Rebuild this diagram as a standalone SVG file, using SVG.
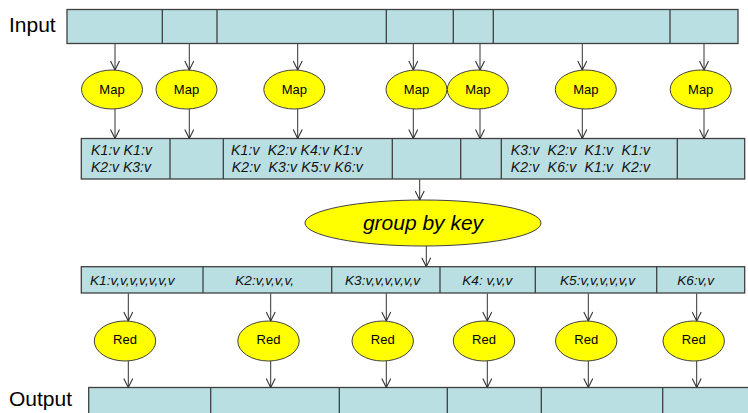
<svg xmlns="http://www.w3.org/2000/svg" width="748" height="413" viewBox="0 0 748 413">
<style>
.bar{fill:#B9DFE3;stroke:#404040;stroke-width:1.3}
.div{stroke:#404040;stroke-width:1.3}
.ell{fill:#FFFF00;stroke:#404040;stroke-width:1}
.lbl{font-family:"Liberation Sans",Arial,sans-serif;font-size:13px;fill:#000}
.kv{font-family:"Liberation Sans",Arial,sans-serif;font-size:13.6px;font-style:italic;fill:#111}
.kvm{font-family:"Liberation Sans",Arial,sans-serif;font-size:14px;font-style:italic;fill:#111}
.big{font-family:"Liberation Sans",Arial,sans-serif;font-size:21px;fill:#000}
.con line{stroke:#333;stroke-width:1;marker-end:url(#ah)}
</style>
<defs>
<marker id="ah" viewBox="0 0 10 10" refX="10" refY="5" markerWidth="10" markerHeight="10" markerUnits="userSpaceOnUse" orient="auto">
<path d="M1,0.5 L10,5 L1,9.5" fill="none" stroke="#333" stroke-width="1.1"/>
</marker>
</defs>
<rect width="748" height="413" fill="#fff"/>

<g id="input">
<text class="big" x="9" y="32">Input</text>
<rect class="bar" x="67" y="9.5" width="671" height="34"/>
<line class="div" x1="162.3" y1="9.5" x2="162.3" y2="43.5"/>
<line class="div" x1="217" y1="9.5" x2="217" y2="43.5"/>
<line class="div" x1="386.3" y1="9.5" x2="386.3" y2="43.5"/>
<line class="div" x1="453.3" y1="9.5" x2="453.3" y2="43.5"/>
<line class="div" x1="493.3" y1="9.5" x2="493.3" y2="43.5"/>
<line class="div" x1="670" y1="9.5" x2="670" y2="43.5"/>
</g>

<g id="map1"><ellipse class="ell" cx="112" cy="89.5" rx="30.5" ry="19.5"/><text class="lbl" x="112" y="94" text-anchor="middle">Map</text></g>
<g id="map2"><ellipse class="ell" cx="186.5" cy="89.5" rx="30.5" ry="19.5"/><text class="lbl" x="186.5" y="94" text-anchor="middle">Map</text></g>
<g id="map3"><ellipse class="ell" cx="294.3" cy="89.5" rx="30.5" ry="19.5"/><text class="lbl" x="294.3" y="94" text-anchor="middle">Map</text></g>
<g id="map4"><ellipse class="ell" cx="416.5" cy="89.5" rx="30.5" ry="19.5"/><text class="lbl" x="416.5" y="94" text-anchor="middle">Map</text></g>
<g id="map5"><ellipse class="ell" cx="477.8" cy="89.5" rx="30.5" ry="19.5"/><text class="lbl" x="477.8" y="94" text-anchor="middle">Map</text></g>
<g id="map6"><ellipse class="ell" cx="585.8" cy="89.5" rx="30.5" ry="19.5"/><text class="lbl" x="585.8" y="94" text-anchor="middle">Map</text></g>
<g id="map7"><ellipse class="ell" cx="700.7" cy="89.5" rx="30.5" ry="19.5"/><text class="lbl" x="700.7" y="94" text-anchor="middle">Map</text></g>

<g id="intermediate">
<rect class="bar" x="81.3" y="138.5" width="663.4" height="40.5"/>
<line class="div" x1="170" y1="138.5" x2="170" y2="179"/>
<line class="div" x1="223.3" y1="138.5" x2="223.3" y2="179"/>
<line class="div" x1="392.3" y1="138.5" x2="392.3" y2="179"/>
<line class="div" x1="460.7" y1="138.5" x2="460.7" y2="179"/>
<line class="div" x1="501.3" y1="138.5" x2="501.3" y2="179"/>
<line class="div" x1="677.3" y1="138.5" x2="677.3" y2="179"/>
<text class="kvm" x="91" y="155" textLength="61" lengthAdjust="spacing" xml:space="preserve">K1:v K1:v</text>
<text class="kvm" x="91" y="172" textLength="60" lengthAdjust="spacing" xml:space="preserve">K2:v K3:v</text>
<text class="kvm" x="231" y="155" textLength="130.7" lengthAdjust="spacing" xml:space="preserve">K1:v  K2:v K4:v K1:v</text>
<text class="kvm" x="231.7" y="172" textLength="131" lengthAdjust="spacing" xml:space="preserve">K2:v  K3:v K5:v K6:v</text>
<text class="kvm" x="510.7" y="155" textLength="139.3" lengthAdjust="spacing" xml:space="preserve">K3:v  K2:v  K1:v  K1:v</text>
<text class="kvm" x="510.7" y="172" textLength="139.3" lengthAdjust="spacing" xml:space="preserve">K2:v  K6:v  K1:v  K2:v</text>
</g>

<g id="groupbykey">
<ellipse class="ell" cx="423" cy="223" rx="118" ry="23"/>
<text class="big" x="423" y="230" text-anchor="middle" font-style="italic">group by key</text>
</g>

<g id="grouped">
<rect class="bar" x="81.3" y="266.7" width="663.4" height="26.3"/>
<line class="div" x1="203" y1="266.7" x2="203" y2="293"/>
<line class="div" x1="331.7" y1="266.7" x2="331.7" y2="293"/>
<line class="div" x1="440" y1="266.7" x2="440" y2="293"/>
<line class="div" x1="535.3" y1="266.7" x2="535.3" y2="293"/>
<line class="div" x1="656.7" y1="266.7" x2="656.7" y2="293"/>
<text class="kv" x="90" y="285">K1:v,v,v,v,v,v,v</text>
<text class="kv" x="235.3" y="285">K2:v,v,v,v,</text>
<text class="kv" x="345" y="285">K3:v,v,v,v,v,v</text>
<text class="kv" x="462.3" y="285" xml:space="preserve">K4: v,v,v</text>
<text class="kv" x="560" y="285">K5:v,v,v,v,v,v</text>
<text class="kv" x="677.3" y="285">K6:v,v</text>
</g>

<g id="red1"><ellipse class="ell" cx="125" cy="341" rx="30.7" ry="20"/><text class="lbl" x="125" y="344" text-anchor="middle">Red</text></g>
<g id="red2"><ellipse class="ell" cx="268.5" cy="341" rx="30.7" ry="20"/><text class="lbl" x="268.5" y="344" text-anchor="middle">Red</text></g>
<g id="red3"><ellipse class="ell" cx="382.7" cy="341" rx="30.7" ry="20"/><text class="lbl" x="382.7" y="344" text-anchor="middle">Red</text></g>
<g id="red4"><ellipse class="ell" cx="484" cy="341" rx="30.7" ry="20"/><text class="lbl" x="484" y="344" text-anchor="middle">Red</text></g>
<g id="red5"><ellipse class="ell" cx="586.2" cy="341" rx="30.7" ry="20"/><text class="lbl" x="586.2" y="344" text-anchor="middle">Red</text></g>
<g id="red6"><ellipse class="ell" cx="693.7" cy="341" rx="30.7" ry="20"/><text class="lbl" x="693.7" y="344" text-anchor="middle">Red</text></g>

<g id="output">
<text class="big" x="9" y="406">Output</text>
<rect class="bar" x="88.7" y="387.5" width="680" height="40"/>
<line class="div" x1="210.7" y1="387.5" x2="210.7" y2="413"/>
<line class="div" x1="339.3" y1="387.5" x2="339.3" y2="413"/>
<line class="div" x1="447.3" y1="387.5" x2="447.3" y2="413"/>
<line class="div" x1="541.3" y1="387.5" x2="541.3" y2="413"/>
<line class="div" x1="662.7" y1="387.5" x2="662.7" y2="413"/>
</g>

<g id="connectors" class="con">
<line x1="115" y1="44" x2="115" y2="70"/>
<line x1="189.3" y1="44" x2="189.3" y2="70"/>
<line x1="297.7" y1="44" x2="297.7" y2="70"/>
<line x1="413.3" y1="44" x2="413.3" y2="70"/>
<line x1="480" y1="44" x2="480" y2="70"/>
<line x1="582.3" y1="44" x2="582.3" y2="70"/>
<line x1="704" y1="44" x2="704" y2="70"/>
<line x1="115" y1="109" x2="115" y2="138.5"/>
<line x1="189.3" y1="109" x2="189.3" y2="138.5"/>
<line x1="297.7" y1="109" x2="297.7" y2="138.5"/>
<line x1="413.3" y1="109" x2="413.3" y2="138.5"/>
<line x1="480" y1="109" x2="480" y2="138.5"/>
<line x1="582.3" y1="109" x2="582.3" y2="138.5"/>
<line x1="704" y1="109" x2="704" y2="138.5"/>
<line x1="419.7" y1="179.5" x2="419.7" y2="200"/>
<line x1="426.3" y1="246" x2="426.3" y2="266.7"/>
<line x1="128.3" y1="293.5" x2="128.3" y2="321"/>
<line x1="270.7" y1="293.5" x2="270.7" y2="321"/>
<line x1="386.3" y1="293.5" x2="386.3" y2="321"/>
<line x1="487.3" y1="293.5" x2="487.3" y2="321"/>
<line x1="588.3" y1="293.5" x2="588.3" y2="321"/>
<line x1="696.7" y1="293.5" x2="696.7" y2="321"/>
<line x1="128.3" y1="361" x2="128.3" y2="387.5"/>
<line x1="270.7" y1="361" x2="270.7" y2="387.5"/>
<line x1="386.3" y1="361" x2="386.3" y2="387.5"/>
<line x1="487.3" y1="361" x2="487.3" y2="387.5"/>
<line x1="588.3" y1="361" x2="588.3" y2="387.5"/>
<line x1="696.7" y1="361" x2="696.7" y2="387.5"/>
</g>
</svg>
